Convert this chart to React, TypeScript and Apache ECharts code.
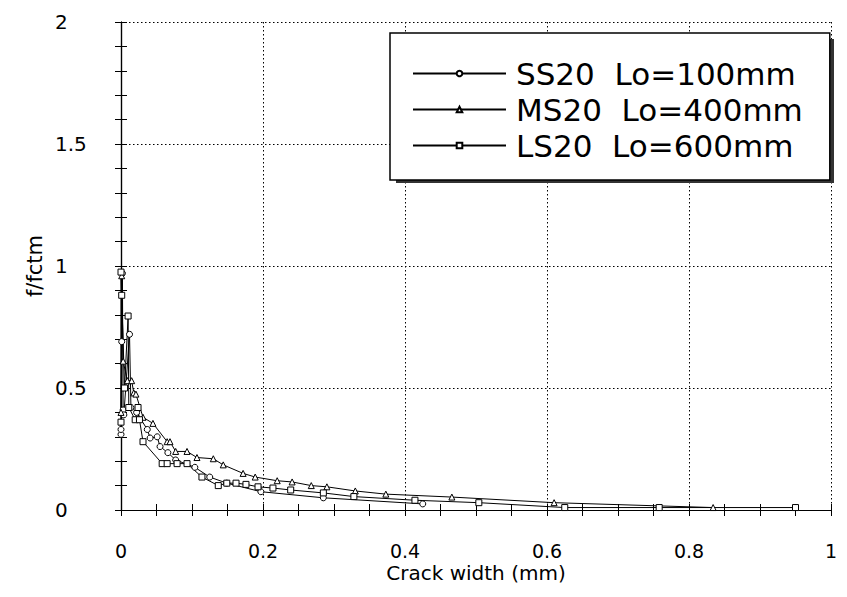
import React, { useEffect, useRef } from "react";
import * as echarts from "echarts";

// ---- data ----
const seriesNames = ["SS20  Lo=100mm", "MS20  Lo=400mm", "LS20  Lo=600mm"];

const ss20X = [0.0, 0.0, 0.001, 0.002, 0.003, 0.004, 0.012, 0.014, 0.022, 0.037, 0.041, 0.051, 0.055, 0.066, 0.077, 0.104, 0.125, 0.149, 0.197, 0.285, 0.425];
const ss20Y = [0.31, 0.33, 0.69, 0.97, 0.41, 0.39, 0.72, 0.42, 0.4, 0.33, 0.295, 0.3, 0.26, 0.235, 0.205, 0.175, 0.135, 0.11, 0.075, 0.05, 0.025];

const ms20X = [0.0, 0.001, 0.003, 0.009, 0.015, 0.018, 0.021, 0.031, 0.045, 0.065, 0.069, 0.077, 0.093, 0.107, 0.13, 0.144, 0.172, 0.189, 0.22, 0.241, 0.268, 0.29, 0.33, 0.373, 0.466, 0.61, 0.834];
const ms20Y = [0.4, 0.96, 0.61, 0.53, 0.53, 0.48, 0.475, 0.38, 0.355, 0.28, 0.28, 0.24, 0.24, 0.215, 0.21, 0.185, 0.15, 0.135, 0.12, 0.115, 0.1, 0.095, 0.078, 0.065, 0.053, 0.03, 0.01];

const ls20X = [0.0, 0.0, 0.001, 0.005, 0.01, 0.011, 0.02, 0.024, 0.026, 0.031, 0.058, 0.065, 0.079, 0.093, 0.114, 0.137, 0.149, 0.162, 0.176, 0.193, 0.214, 0.239, 0.285, 0.328, 0.414, 0.504, 0.625, 0.758, 0.95];
const ls20Y = [0.36, 0.975, 0.88, 0.5, 0.795, 0.42, 0.37, 0.42, 0.37, 0.28, 0.19, 0.19, 0.19, 0.19, 0.135, 0.1, 0.11, 0.11, 0.105, 0.095, 0.09, 0.082, 0.07, 0.055, 0.04, 0.03, 0.01, 0.01, 0.01];

const seriesSymbols = ["circle", "triangle", "rect"];

const xAxisName = "Crack width (mm)";
const yAxisName = "f/fctm";

const zip = (xs: number[], ys: number[]) => xs.map((x, i) => [x, ys[i]]);

const FONT = "DejaVu Sans";

export default function App() {
  const ref = useRef<HTMLDivElement>(null);

  useEffect(() => {
    if (!ref.current) return;
    const chart = echarts.init(ref.current, undefined, { renderer: "svg" });

    const allData = [zip(ss20X, ss20Y), zip(ms20X, ms20Y), zip(ls20X, ls20Y)];

    const tickCommon = {
      axisLine: { show: true, lineStyle: { color: "#000", width: 1.2 } },
      axisTick: { show: true, inside: true, length: 6, lineStyle: { color: "#000", width: 1 } },
      minorTick: { show: true, length: 6, lineStyle: { color: "#000", width: 1 } },
    };

    const option: any = {
      animation: false,
      backgroundColor: "#fff",
      grid: { left: 121, right: 16, top: 22, bottom: 87, containLabel: false, outerBoundsMode: "none" },
      xAxis: [
        {
          type: "value",
          min: 0,
          max: 1,
          interval: 0.2,
          position: "bottom",
          name: xAxisName,
          nameLocation: "middle",
          nameGap: 53,
          nameMoveOverlap: false,
          nameTextStyle: { fontFamily: FONT, fontSize: 20, color: "#000" },
          ...tickCommon,
          minorTick: { ...tickCommon.minorTick, splitNumber: 4 },
          axisLabel: { fontFamily: FONT, fontSize: 19, color: "#000", margin: 31, formatter: (v: number) => String(v) },
          splitLine: { show: true, lineStyle: { color: "#000", type: [1.5, 2.5], width: 1 } },
        },
        {
          type: "value",
          min: 0,
          max: 1,
          interval: 0.2,
          position: "top",
          ...tickCommon,
          minorTick: { ...tickCommon.minorTick, splitNumber: 4 },
          axisLabel: { show: false },
          splitLine: { show: false },
        },
      ],
      yAxis: [
        {
          type: "value",
          min: 0,
          max: 2,
          interval: 0.5,
          position: "left",
          name: yAxisName,
          nameLocation: "middle",
          nameGap: 76,
          nameMoveOverlap: false,
          nameTextStyle: { fontFamily: FONT, fontSize: 21, color: "#000" },
          ...tickCommon,
          minorTick: { ...tickCommon.minorTick, splitNumber: 5 },
          axisLabel: { fontFamily: FONT, fontSize: 20, color: "#000", margin: 66, align: "left", formatter: (v: number) => String(v) },
          splitLine: { show: true, lineStyle: { color: "#000", type: [1.5, 2.5], width: 1 } },
        },
        {
          type: "value",
          min: 0,
          max: 2,
          interval: 0.5,
          position: "right",
          ...tickCommon,
          minorTick: { ...tickCommon.minorTick, splitNumber: 5 },
          axisLabel: { show: false },
          splitLine: { show: false },
        },
      ],
      legend: {
        orient: "vertical",
        left: 390,
        top: 33,
        padding: [25, 27, 19, 22],
        itemWidth: 93,
        itemHeight: 7,
        itemGap: 5,
        backgroundColor: "#fff",
        borderColor: "#000",
        borderWidth: 1.5,
        selectedMode: false,
        textStyle: { fontFamily: FONT, fontSize: 31, color: "#000", padding: [0, 0, 0, 5] },
        data: seriesNames,
      },
      graphic: [
        {
          type: "rect",
          z: 3,
          shape: { x: 396, y: 39, width: 438, height: 144 },
          style: { fill: "#333" },
        },
      ],
      series: seriesNames.map((name, i) => ({
        name,
        type: "line",
        xAxisIndex: 0,
        yAxisIndex: 0,
        data: allData[i],
        symbol: seriesSymbols[i],
        symbolSize: 6,
        showAllSymbol: true,
        lineStyle: { color: "#000", width: 1 },
        itemStyle: { color: "#fff", borderColor: "#000", borderWidth: 1 },
        emphasis: { disabled: true },
      })),
    };

    chart.setOption(option);
    return () => chart.dispose();
  }, []);

  return <div ref={ref} style={{ width: 847, height: 597, position: "absolute", left: 0, top: 0 }} />;
}
